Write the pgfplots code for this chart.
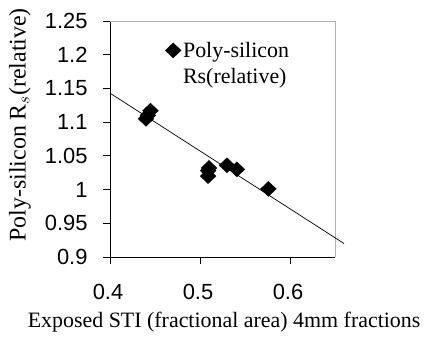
\documentclass[border=0pt]{standalone}
\usepackage{fontspec}
\setmainfont{Liberation Serif}
\newfontfamily\tickfont{Liberation Sans}
\usepackage{pgfplots}
\pgfplotsset{compat=1.18}
\begin{document}
\begin{tikzpicture}
\path[use as bounding box] (0,0) rectangle (428bp,341bp);
\begin{axis}[
  at={(110bp,84bp)}, anchor=south west,
  scale only axis, width=225bp, height=236bp,
  xmin=0.4, xmax=0.65, ymin=0.9, ymax=1.25,
  axis lines*=left,
  axis line style={black, line width=0.8pt},
  xtick={0.4,0.5,0.6},
  ytick={0.9,0.95,1,1.05,1.1,1.15,1.2,1.25},
  tick align=outside, tick style={black, line width=0.8pt},
  major tick length=7bp,
  /pgf/number format/assume math mode=true,
  tick label style={font=\tickfont\fontsize{22}{22}\selectfont},
  xticklabel style={yshift=-17bp, xshift=-2bp},
  yticklabel style={xshift=-12bp},
  xlabel={Exposed STI (fractional area) 4mm fractions},
  ylabel={Poly-silicon R$_s$(relative)},
  xlabel style={font=\fontsize{22}{24}\selectfont, at={(axis description cs:0.507,-0.275)}, anchor=center},
  ylabel style={font=\fontsize{24}{25}\selectfont, at={(axis description cs:-0.40,0.56)}, anchor=center},
  clip=false,
  legend style={draw=none, fill=none, at={(rel axis cs:0.245,0.92)}, anchor=north west,
    font=\fontsize{22}{22}\selectfont, row sep=6bp, cells={anchor=west}, inner sep=0pt},
  legend image code/.code={\draw[#1] plot coordinates {(0.05cm,0cm)};},
]
\draw[gray!60, line width=0.8pt] (rel axis cs:0,1) -- (rel axis cs:1,1) -- (rel axis cs:1,0);
\addplot[only marks, mark=diamond*, mark size=7.5bp, mark options={xscale=1.4, black}, black]
coordinates {(0.440,1.105)(0.442,1.110)(0.445,1.117)(0.509,1.020)(0.509,1.028)(0.510,1.032)(0.530,1.036)(0.541,1.030)(0.576,1.001)};
\addlegendentry{Poly-silicon}
\addlegendimage{empty legend}
\addlegendentry{Rs(relative)}
\addplot[black, line width=0.7pt, forget plot] coordinates {(0.4,1.143)(0.66,0.920)};
\end{axis}
\end{tikzpicture}
\end{document}
